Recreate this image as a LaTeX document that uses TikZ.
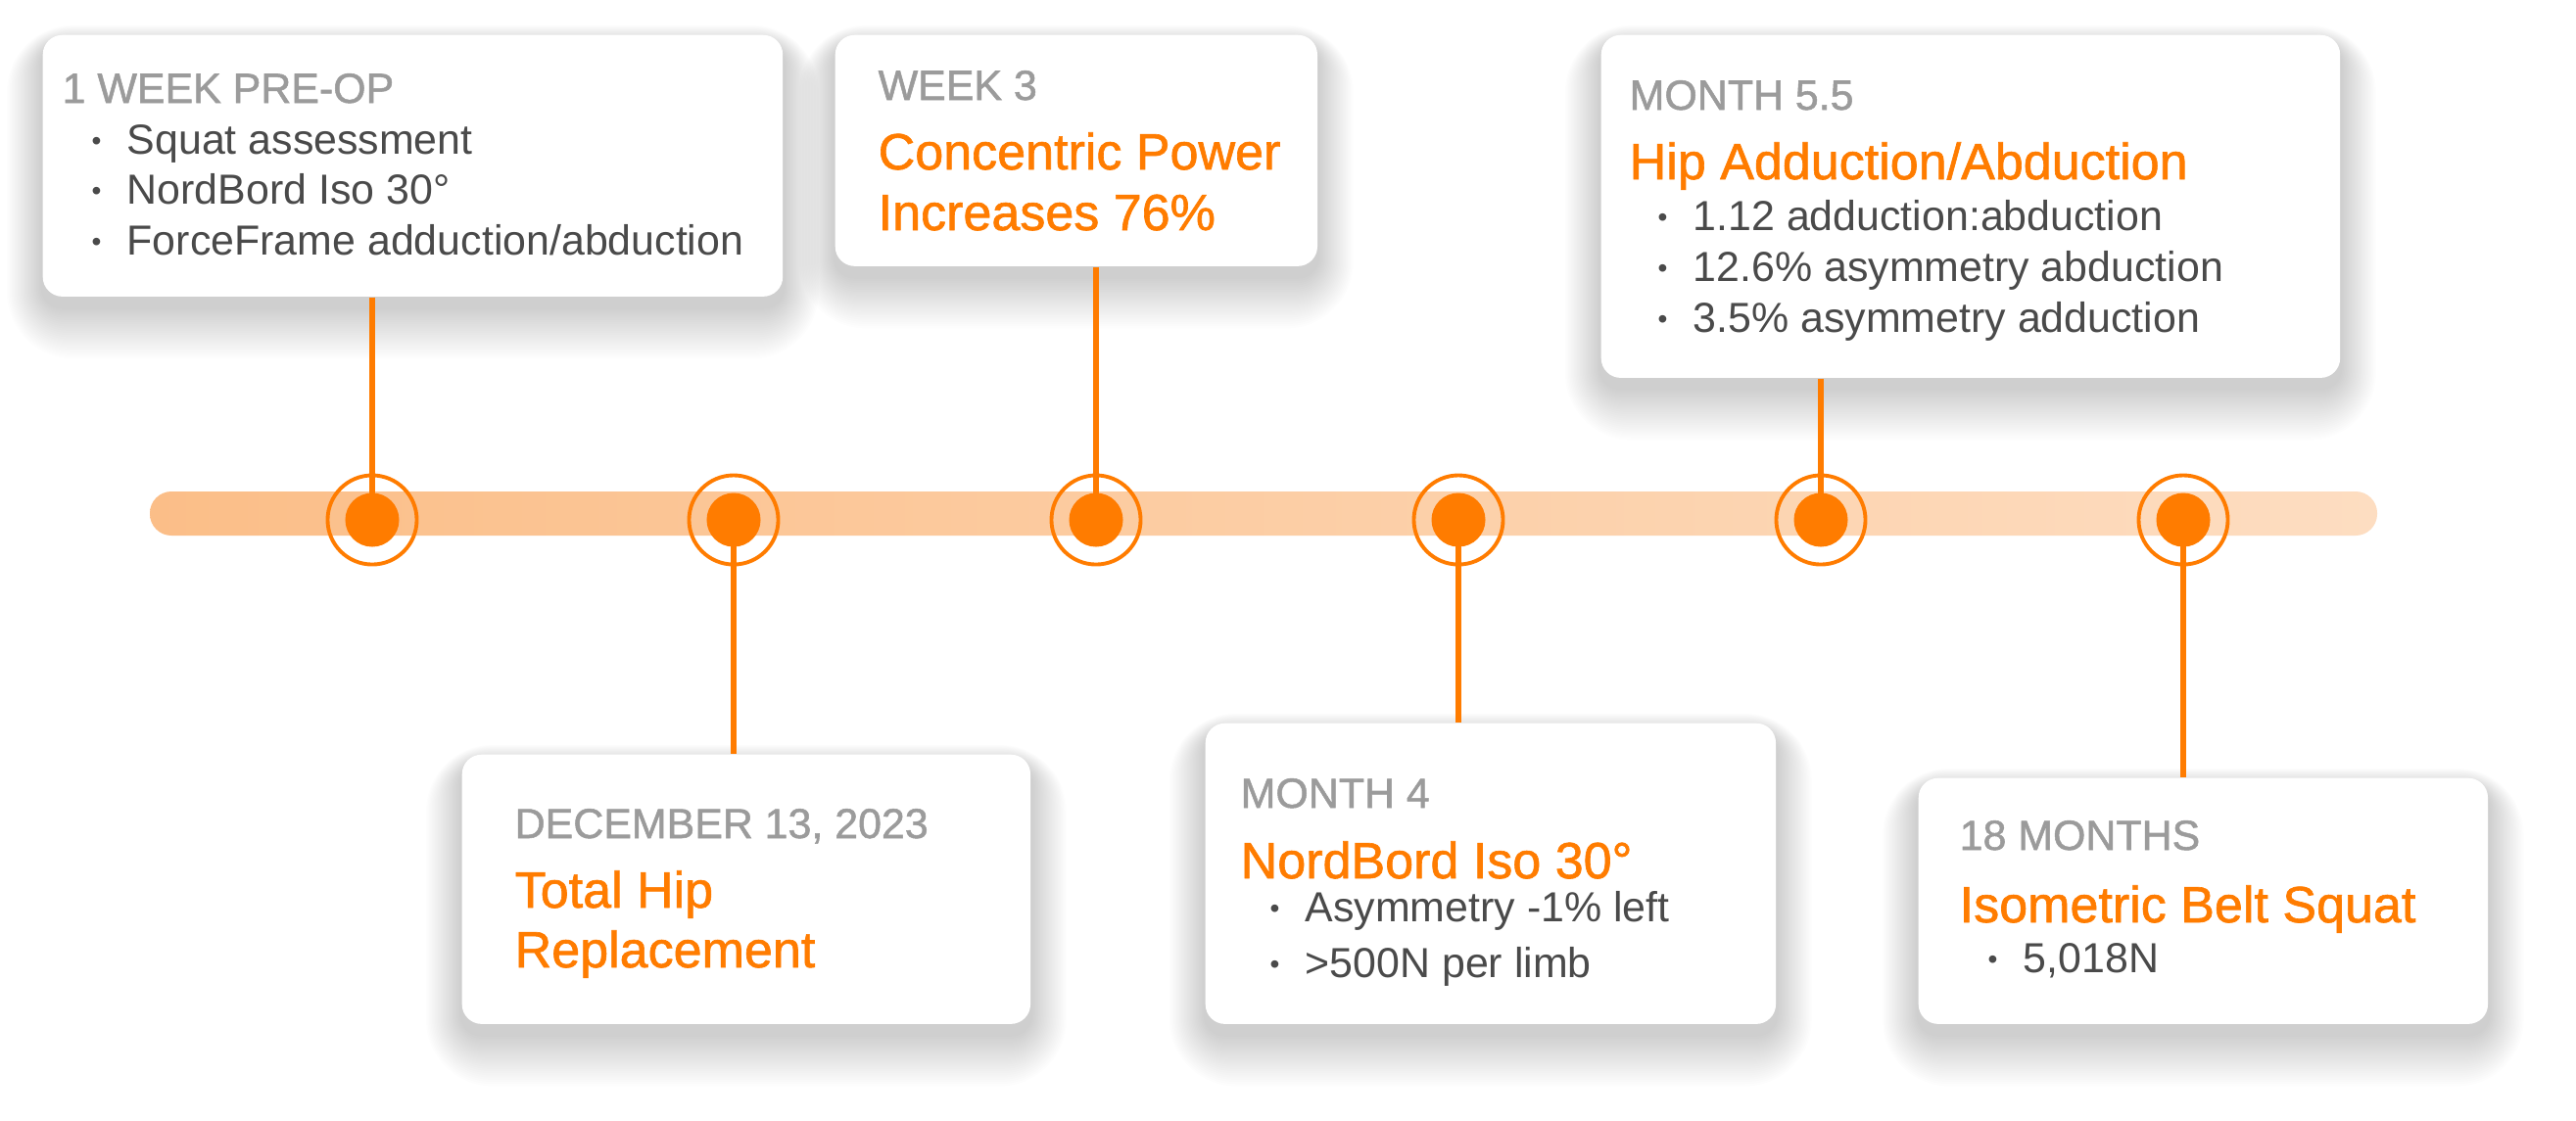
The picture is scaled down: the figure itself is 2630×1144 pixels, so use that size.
\documentclass[tikz,border=0pt]{standalone}
\usepackage{fontspec}
\setmainfont{Liberation Sans}
\newfontfamily\medfont[FakeBold=1.2]{Liberation Sans}
\usetikzlibrary{positioning}

\definecolor{tlorange}{HTML}{FF7C00}
\definecolor{tlbar}{HTML}{FBBE88}
\definecolor{tlbarlight}{HTML}{FDDDC1}
\definecolor{tlgrey}{HTML}{9B9B9B}
\definecolor{tltext}{HTML}{4A4A4A}

\pgfdeclarelayer{bg}
\pgfsetlayers{bg,main}

\newcommand{\bul}{\makebox[0.36cm][l]{\raisebox{1.1pt}{\fontsize{8}{8}\selectfont •}}}

\begin{document}
\begin{tikzpicture}[x=0.01cm,y=-0.01cm,
    card/.style={fill=white,rounded corners=0.2cm,anchor=north west,inner sep=0pt},
    when/.style={anchor=base west,inner sep=0pt,text=tlgrey,font=\medfont\fontsize{12.2}{14}\selectfont},
    what/.style={anchor=base west,inner sep=0pt,text=tlorange,font=\medfont\fontsize{14.8}{17}\selectfont},
    item/.style={anchor=base west,inner sep=0pt,text=tltext,font=\fontsize{12.2}{14}\selectfont},
    ring/.style={circle,draw=tlorange,line width=1.1pt,minimum size=0.91cm,inner sep=0pt},
    dot/.style={circle,fill=tlorange,minimum size=0.55cm,inner sep=0pt},
    link/.style={draw=tlorange,line width=1.5pt}]
    \useasboundingbox (0,0) rectangle (2630,1144);

    % cards
    \node[card,minimum width=7.55cm,minimum height=2.67cm] (pre) at (43,35) {};
    \node[card,minimum width=5.80cm,minimum height=2.75cm] (surgery) at (471,770) {};
    \node[card,minimum width=4.92cm,minimum height=2.36cm] (week3) at (852,35) {};
    \node[card,minimum width=5.82cm,minimum height=3.07cm] (month4) at (1230,738) {};
    \node[card,minimum width=7.54cm,minimum height=3.50cm] (month55) at (1634,35) {};
    \node[card,minimum width=5.81cm,minimum height=2.51cm] (month18) at (1958,794) {};

    % soft shadows under the cards
    \begin{pgfonlayer}{bg}
        \fill[white] (0,0) rectangle (2630,1144);
        \foreach \c in {pre,surgery,week3,month4,month55,month18}
            \foreach \k in {1,...,24}
                \fill[black,opacity=0.009,rounded corners={0.2cm+\k*0.02cm}]
                    ([xshift={-\k*0.015cm},yshift={\k*0.008cm-0.1cm}]\c.north west)
                    rectangle ([xshift={\k*0.015cm},yshift={-0.1cm-\k*0.022cm}]\c.south east);
    \end{pgfonlayer}

    % timeline bar
    \shade[left color=tlbar,right color=tlbarlight,rounded corners=0.22cm] (153,502) rectangle (2427,547);

    \foreach \x [count=\i] in {380,749,1119,1489,1859,2229}
        \node[ring] (r\i) at (\x,531) {};

    \draw[link] (pre.south -| r1) -- (r1.center);
    \draw[link] (r2.center) -- (surgery.north -| r2);
    \draw[link] (week3.south -| r3) -- (r3.center);
    \draw[link] (r4.center) -- (month4.north -| r4);
    \draw[link] (month55.south -| r5) -- (r5.center);
    \draw[link] (r6.center) -- (month18.north -| r6);

    \foreach \i in {1,...,6}
        \node[dot] (m\i) at (r\i) {};

    % 1 week pre-op
    \node[when] (pre-h) at (63,105) {1 WEEK PRE-OP};
    \node[item] (pre-a) at (93,157) {\bul Squat assessment};
    \node[item] (pre-b) at (93,208) {\bul NordBord Iso 30°};
    \node[item] (pre-c) at (93,260) {\bul ForceFrame adduction/abduction};

    % surgery
    \node[when] (surgery-h) at (525,856) {DECEMBER 13, 2023};
    \node[what] (surgery-t) at (525,927) {Total Hip};
    \node[what] (surgery-u) at (525,988) {Replacement};

    % week 3
    \node[when] (week3-h) at (896,102) {WEEK 3};
    \node[what] (week3-t) at (896,173) {Concentric Power};
    \node[what] (week3-u) at (896,235) {Increases 76\%};

    % month 4
    \node[when] (month4-h) at (1266,825) {MONTH 4};
    \node[what] (month4-t) at (1266,897) {NordBord Iso 30°};
    \node[item] (month4-a) at (1296,941) {\bul Asymmetry -1\% left};
    \node[item] (month4-b) at (1296,998) {\bul >500N per limb};

    % month 5.5
    \node[when] (month55-h) at (1663,112) {MONTH 5.5};
    \node[what] (month55-t) at (1663,183) {Hip Adduction/Abduction};
    \node[item] (month55-a) at (1692,235) {\bul 1.12 adduction:abduction};
    \node[item] (month55-b) at (1692,287) {\bul 12.6\% asymmetry abduction};
    \node[item] (month55-c) at (1692,339) {\bul 3.5\% asymmetry adduction};

    % 18 months
    \node[when] (month18-h) at (2000,868) {18 MONTHS};
    \node[what] (month18-t) at (2000,942) {Isometric Belt Squat};
    \node[item] (month18-a) at (2029,993) {\bul 5,018N};
\end{tikzpicture}
\end{document}
